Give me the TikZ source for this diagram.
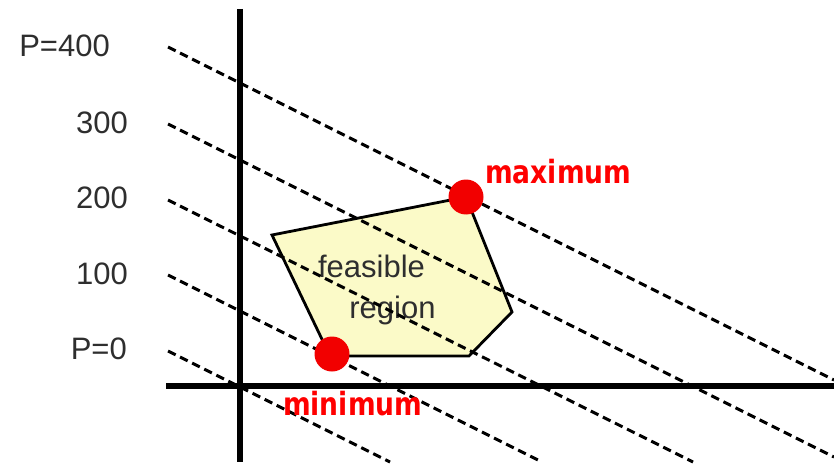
\documentclass[tikz,border=0pt]{standalone}
\usepackage{fontspec}
\setmainfont{Liberation Sans}
\newfontfamily\dvs{DejaVu Sans}
\definecolor{regionfill}{HTML}{FBFAC8}
\definecolor{lblgray}{HTML}{2E2E2E}
\definecolor{optred}{HTML}{F20000}
\tikzset{
  plevel/.style={line width=3pt, dash pattern=on 8.5pt off 5pt, black},
  axisline/.style={line width=6.5pt, black},
  lvllabel/.style={anchor=east, inner sep=0pt, text=lblgray, font=\fontsize{31}{37}\selectfont},
  regiontext/.style={anchor=base, inner sep=0pt, text=lblgray, font=\fontsize{31}{37}\selectfont},
  optpoint/.style={circle, fill=optred, minimum size=35pt, inner sep=0pt},
  optlabel/.style={anchor=base west, inner sep=0pt, text=red, font=\dvs\bfseries\fontsize{32}{38}\selectfont}
}
\begin{document}
\begin{tikzpicture}[x=1pt,y=-1pt]
\useasboundingbox (0,0) rectangle (834,465);
% feasible region
\coordinate (r1) at (272,235);
\coordinate (r2) at (466,197);
\coordinate (r3) at (512,312);
\coordinate (r4) at (469,356);
\coordinate (r5) at (330,356);
\filldraw[fill=regionfill, draw=black, line width=2.8pt, line join=miter] (r1) -- (r2) -- (r3) -- (r4) -- (r5) -- cycle;
\node[regiontext] (feas) at (371.5,277) {feasible};
\node[regiontext] (reg) at (392.5,318.5) {region};
% iso-profit lines
\coordinate (d0s) at (168,351); \coordinate (d0e) at (390,462);
\coordinate (d1s) at (168,275); \coordinate (d1e) at (540,461);
\coordinate (d2s) at (168,200); \coordinate (d2e) at (693,462);
\coordinate (d3s) at (168,124); \coordinate (d3e) at (834,457);
\coordinate (d4s) at (168,47);  \coordinate (d4e) at (834,380);
\draw[plevel] (d0s) -- (d0e);
\draw[plevel] (d1s) -- (d1e);
\draw[plevel] (d2s) -- (d2e);
\draw[plevel] (d3s) -- (d3e);
\draw[plevel] (d4s) -- (d4e);
% axes
\coordinate (yt) at (240,9); \coordinate (yb) at (240,462);
\coordinate (xl) at (166,386); \coordinate (xr) at (834,386);
\draw[axisline] (yt) -- (yb);
\draw[axisline] (xl) -- (xr);
% level labels
\node[lvllabel] (l4) at (110,45.5) {P=400};
\node[lvllabel] (l3) at (128,122.5) {300};
\node[lvllabel] (l2) at (128,197.5) {200};
\node[lvllabel] (l1) at (128,273.5) {100};
\node[lvllabel] (l0) at (127,348.5) {P=0};
% optimum points
\node[optpoint] (max) at (466,197) {};
\node[optpoint] (min) at (332,354) {};
\node[optlabel] (maxl) at (485,183) {\scalebox{0.83}[1]{maximum}};
\node[optlabel] (minl) at (283,415) {\scalebox{0.83}[1]{minimum}};
\end{tikzpicture}
\end{document}
